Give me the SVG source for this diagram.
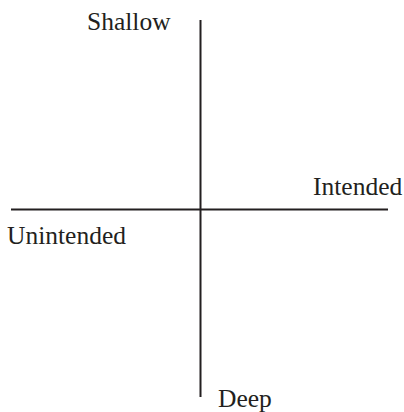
<svg xmlns="http://www.w3.org/2000/svg" width="404" height="412" viewBox="0 0 404 412">
<style>
.ax{stroke:#231f20;stroke-width:2;fill:none}
.lb{font-family:"Liberation Serif","Times New Roman",serif;font-size:25.5px;fill:#231f20}
</style>
<rect width="404" height="412" fill="#fff"/>
<g id="connectors">
<line class="ax" x1="200.5" y1="20" x2="200.5" y2="397"/>
<line class="ax" x1="11" y1="209.5" x2="388" y2="209.5"/>
</g>
<g id="shallow"><text class="lb" x="87" y="30">Shallow</text></g>
<g id="intended"><text class="lb" x="313" y="195">Intended</text></g>
<g id="unintended"><text class="lb" x="7" y="244">Unintended</text></g>
<g id="deep"><text class="lb" x="218" y="407">Deep</text></g>
</svg>
